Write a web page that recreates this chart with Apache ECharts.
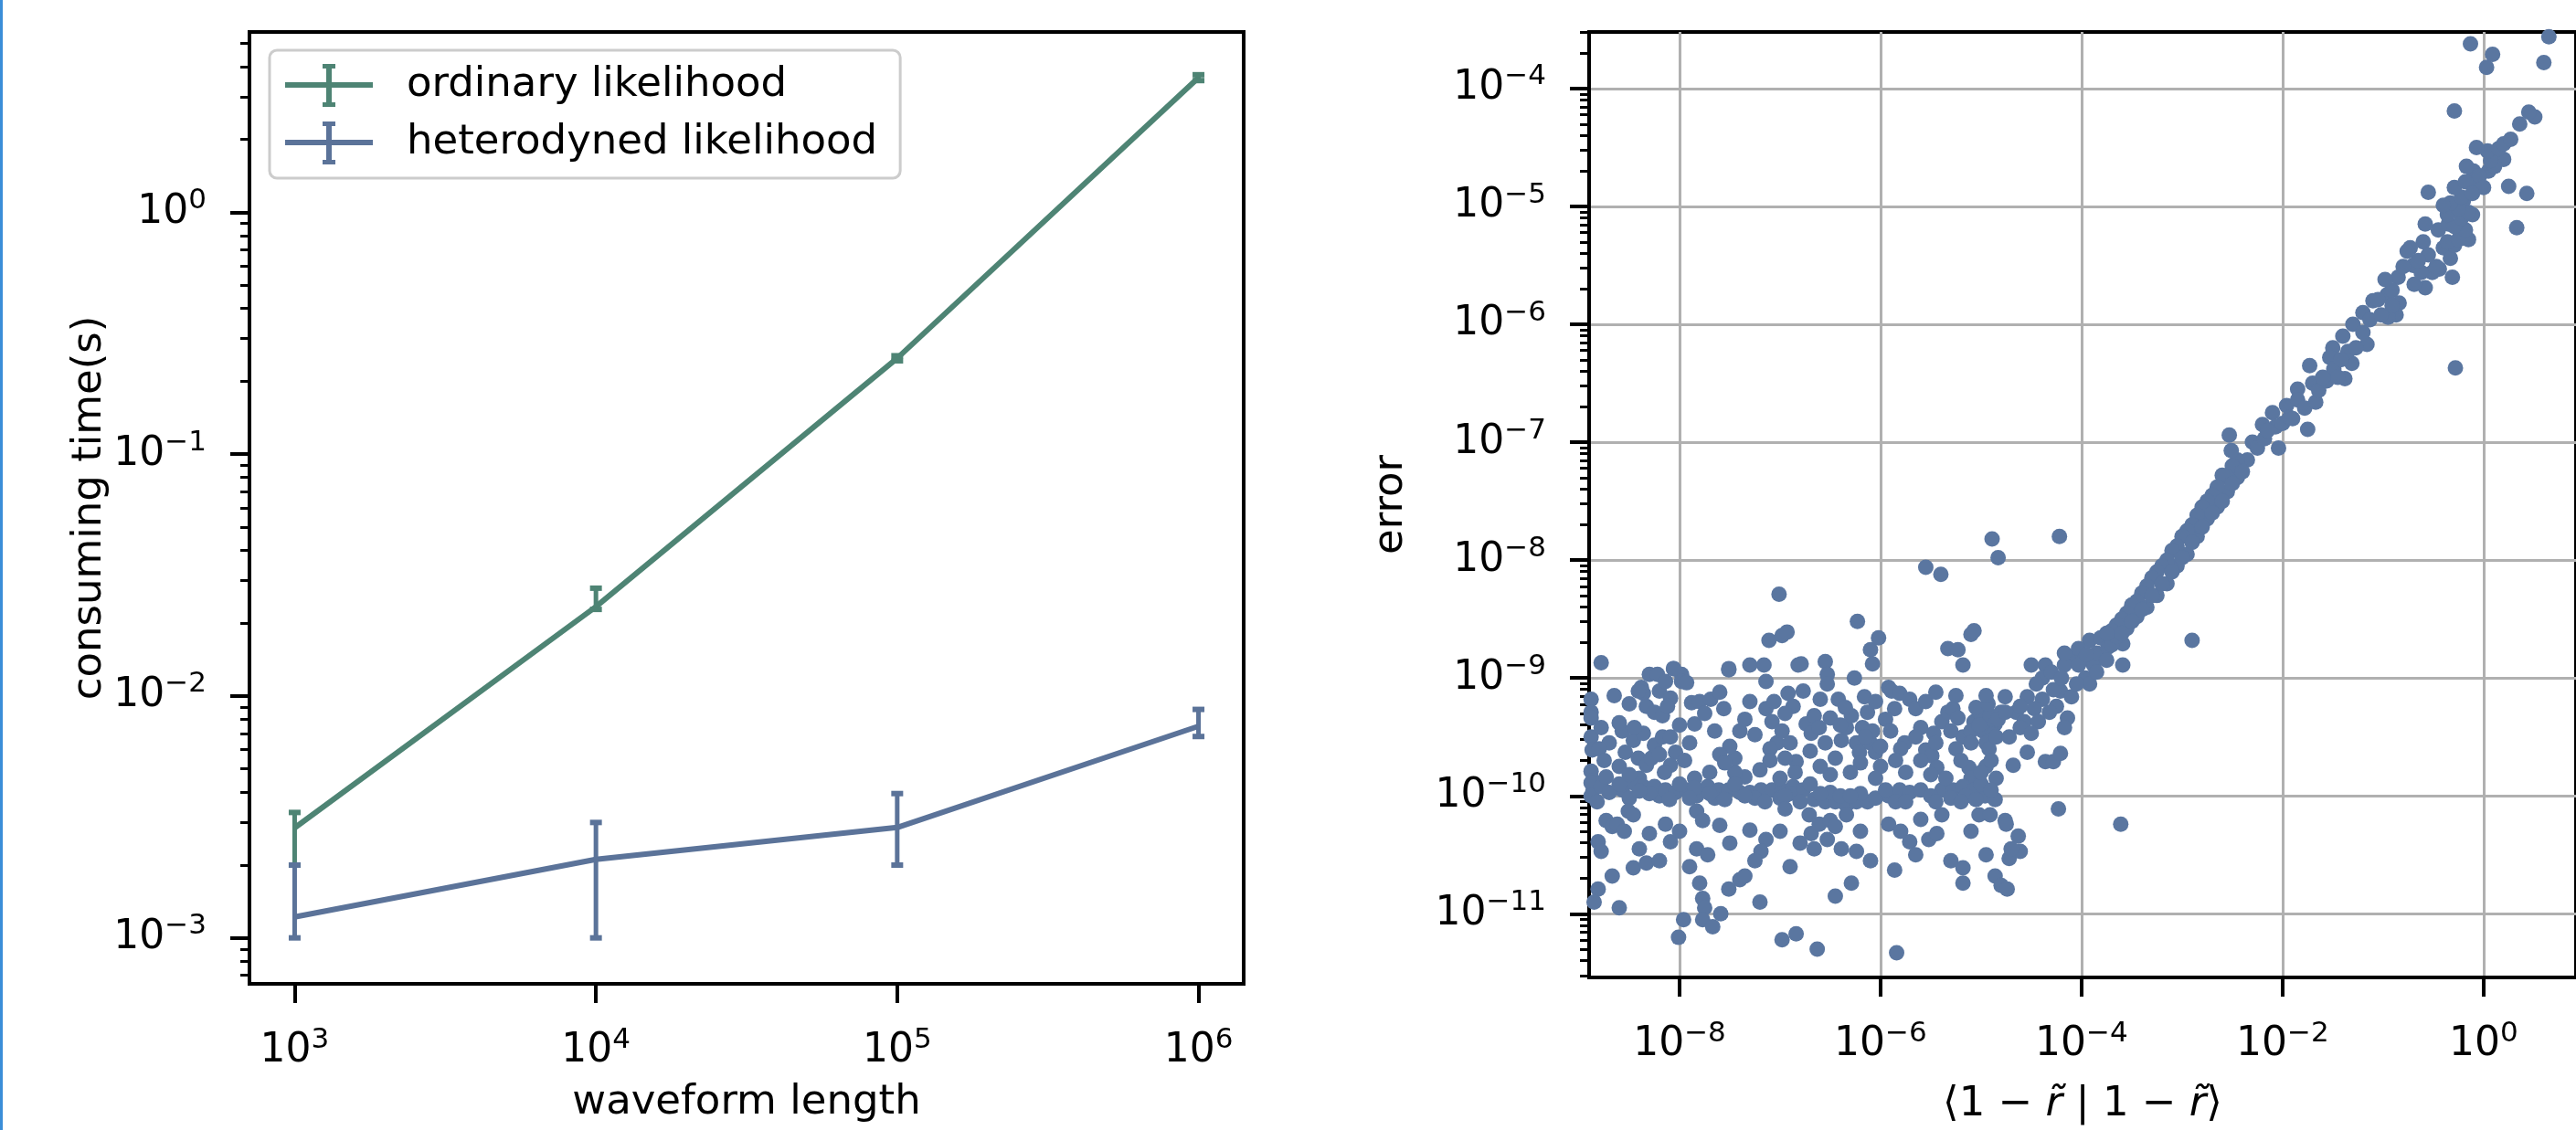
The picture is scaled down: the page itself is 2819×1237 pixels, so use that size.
<!DOCTYPE html>
<html>
<head>
<meta charset="utf-8">
<title>likelihood timing and error</title>
<script src="https://cdn.jsdelivr.net/npm/echarts@6/dist/echarts.min.js"></script>
<style>
    html, body { margin: 0; padding: 0; background: #fff; overflow: hidden; }
    #container { width: 2819px; height: 1237px; }
    #edge { position: absolute; left: 0; top: 0; width: 3px; height: 1237px; background: #3b8ed8; }
</style>
</head>
<body>
<div id="container"></div>
<div id="edge"></div>
<script>
// ---- left panel: consuming time vs waveform length ----
var waveformLength = [1e3, 1e4, 1e5, 1e6];
var ordinaryTime = [2.85e-3, 0.0234, 0.249, 3.6];
var ordinaryLow = [2.0e-3, 0.0228, 0.243, 3.5];
var ordinaryHigh = [3.3e-3, 0.0279, 0.255, 3.7];
var heteroTime = [1.22e-3, 2.11e-3, 2.86e-3, 7.5e-3];
var heteroLow = [1.0e-3, 1.0e-3, 2.0e-3, 6.8e-3];
var heteroHigh = [2.0e-3, 3.0e-3, 3.95e-3, 8.8e-3];

var leftXTicks = [1e3, 1e4, 1e5, 1e6];
var leftYTicks = [1e-3, 1e-2, 1e-1, 1];

// ---- right panel: error vs <1-r|1-r>, stored as [log10 x, log10 y] ----
var floorPoints = [
    [-8.78,-8.87],[-7.11,-8.68],[-6.98,-8.64],[-6.79,-8.88],[-6.55,-8.86],[-6.10,-8.76],[-6.08,-8.88],[-6.02,-8.66],
    [-5.33,-8.75],[-5.23,-8.76],[-5.18,-8.89],[-5.10,-8.63],[-7.51,-8.92],[-7.30,-8.89],[-7.16,-8.89],[-6.82,-8.89],
    [-6.53,-8.97],[-8.06,-8.92],[-7.98,-8.97],
    [-7.01,-8.29],[-6.23,-8.52],[-5.55,-8.06],[-5.40,-8.12],[-4.89,-7.82],[-4.83,-7.98],[-6.93,-8.61],[-5.07,-8.60],
    [-8.88,-9.18],[-8.88,-9.29],[-8.88,-9.34],[-8.88,-9.50],[-8.87,-9.61],[-8.88,-9.79],[-8.86,-9.87],[-8.86,-9.95],
    [-8.78,-9.42],[-8.70,-9.55],[-8.57,-9.45],[-8.54,-9.63],[-8.46,-9.53],[-8.36,-9.47],[-8.41,-9.68],[-8.33,-9.74],
    [-8.28,-9.68],[-8.25,-9.57],[-8.17,-9.50],[-8.09,-9.50],[-8.04,-9.63],[-8.09,-9.74],
    [-8.38,-9.08],[-8.36,-9.13],[-8.33,-9.24],[-8.30,-8.97],[-8.22,-8.97],[-8.20,-9.11],[-8.14,-9.03],[-8.09,-9.17],
    [-8.06,-8.92],[-7.98,-9.03],[-7.93,-9.04],[-8.41,-9.11],[-8.25,-9.29],[-8.17,-9.32],[-8.12,-9.24],
    [-7.88,-9.21],[-7.85,-9.39],[-7.80,-9.20],[-7.69,-9.18],[-7.56,-9.26],[-7.51,-8.93],[-7.45,-9.68],[-7.40,-9.45],
    [-7.35,-9.84],[-7.30,-9.20],[-7.14,-9.26],[-7.14,-9.03],[-7.08,-9.37],[-7.06,-9.20],[-7.03,-9.55],[-6.98,-9.45],
    [-6.92,-9.13],[-6.87,-9.24],[-6.84,-9.71],[-6.77,-9.11],[-6.74,-9.39],[-6.69,-9.47],[-6.66,-9.32],[-6.61,-9.42],
    [-6.53,-9.05],[-6.50,-9.34],[-6.45,-9.68],[-6.42,-9.18],[-6.39,-9.53],[-6.34,-9.42],[-6.29,-9.32],[-6.26,-9.00],
    [-6.24,-9.55],[-6.21,-9.63],[-6.18,-9.42],[-6.16,-9.16],[-6.13,-9.29],[-6.10,-9.55],[-6.08,-9.45],[-6.05,-9.63],
    [-6.00,-9.58],
    [-5.92,-9.08],[-5.89,-9.11],[-5.86,-9.26],[-5.81,-9.13],[-5.76,-9.55],[-5.71,-9.18],[-5.65,-9.26],[-5.60,-9.42],
    [-5.55,-9.61],[-5.49,-9.66],[-5.47,-9.47],[-5.44,-9.76],[-5.39,-9.37],[-5.33,-9.29],[-5.28,-9.26],[-5.23,-9.34],
    [-5.18,-9.50],[-5.12,-9.76],[-5.07,-9.37],[-5.02,-9.29],[-4.99,-9.34],[-4.96,-9.42],[-4.91,-9.32],[-4.86,-9.39],
    [-4.80,-9.29],[-5.05,-9.25],[-4.98,-9.45],[-4.93,-9.22],[-4.88,-9.48],[-4.83,-9.35],[-5.10,-9.45],[-4.95,-9.55],
    [-8.65,-9.15],[-8.50,-9.22],[-7.75,-9.30],[-7.60,-9.12],[-7.35,-9.35],[-6.95,-9.30],[-6.60,-9.18],[-6.35,-9.25],
    [-6.05,-9.20],[-5.95,-9.35],[-5.55,-9.20],[-5.45,-9.12],[-5.25,-9.15],[-4.95,-9.15],
    [-8.80,-9.60],[-8.60,-9.38],[-8.45,-9.42],[-8.00,-9.40],[-7.90,-9.55],[-7.65,-9.45],[-7.50,-9.58],[-7.25,-9.48],
    [-7.10,-9.60],[-6.90,-9.55],[-6.55,-9.55],[-6.40,-9.40],[-6.15,-9.50],[-5.90,-9.45],[-5.80,-9.60],[-5.65,-9.50],
    [-5.45,-9.55],[-5.30,-9.45],[-5.25,-9.60],[-5.10,-9.55],[-5.02,-9.40],[-4.92,-9.60],[-4.85,-9.50],
    [-8.75,-9.70],[-8.40,-9.85],[-8.20,-9.65],[-7.85,-9.85],[-7.60,-9.65],[-7.45,-9.80],[-7.10,-9.70],[-6.95,-9.68],
    [-6.70,-9.62],[-6.50,-9.82],[-6.20,-9.72],[-6.00,-9.75],[-5.85,-9.70],[-5.50,-9.82],[-5.10,-9.85],[-4.95,-9.75],
    [-4.85,-9.85],
    [-8.88,-9.89],[-8.88,-10.00],[-8.78,-9.92],[-8.73,-9.84],[-8.57,-9.95],[-8.46,-9.89],[-8.36,-9.92],[-8.25,-9.92],
    [-8.20,-10.00],[-8.14,-9.95],[-8.04,-9.97],[-7.93,-9.95],[-7.83,-10.00],[-7.72,-9.92],[-7.61,-9.95],[-7.51,-9.95],
    [-7.40,-9.97],[-7.30,-9.97],[-7.19,-9.95],[-7.08,-9.95],[-6.98,-9.95],[-6.87,-9.92],[-6.77,-9.95],[-6.66,-10.03],
    [-6.55,-10.05],[-6.45,-10.05],[-6.34,-10.08],[-6.24,-10.05],[-6.13,-10.05],[-5.92,-10.00],[-5.81,-9.95],[-5.71,-9.97],
    [-5.39,-9.95],[-5.28,-9.95],[-5.18,-9.92],[-5.07,-9.95],[-4.96,-10.00],[-4.86,-10.03],
    [-8.70,-9.97],[-8.60,-9.90],[-8.30,-9.98],[-8.00,-9.90],[-7.85,-9.93],[-7.65,-10.02],[-7.45,-9.90],[-7.25,-10.02],
    [-7.00,-10.02],[-6.90,-9.98],[-6.70,-9.90],[-6.50,-9.97],[-6.40,-10.00],[-6.20,-9.98],[-5.85,-10.05],[-5.60,-9.95],
    [-5.50,-10.00],[-5.30,-10.02],[-5.15,-10.00],[-5.00,-9.90],[-4.90,-9.95],
    [-8.82,-10.05],[-8.50,-10.02],[-8.40,-9.96],[-8.10,-10.03],[-7.90,-10.02],[-7.70,-9.98],[-7.55,-10.03],[-7.35,-10.00],
    [-7.15,-10.05],[-6.95,-10.00],[-6.80,-10.05],[-6.60,-9.98],[-6.30,-10.00],[-6.05,-10.02],[-5.95,-9.95],[-5.75,-10.05],
    [-5.45,-10.05],[-5.20,-10.05],[-5.05,-10.03],
    [-8.60,-9.75],[-8.50,-9.82],[-8.15,-9.80],[-7.95,-9.70],[-7.70,-9.80],[-7.55,-9.72],[-7.20,-9.78],[-7.00,-9.85],
    [-6.85,-9.80],[-6.60,-9.75],[-6.30,-9.80],[-6.05,-9.85],[-5.75,-9.80],[-5.60,-9.70],[-5.35,-9.85],[-5.20,-9.70],
    [-5.00,-9.80],[-4.90,-9.70],
    [-8.73,-10.21],[-8.67,-10.26],[-8.62,-10.24],[-8.51,-10.13],[-8.46,-10.16],[-8.30,-10.32],[-8.14,-10.24],[-8.09,-10.39],
    [-8.81,-10.39],[-8.78,-10.47],[-8.67,-10.68],[-8.81,-10.79],[-8.46,-10.61],[-8.33,-10.57],[-7.83,-10.13],[-7.77,-10.21],
    [-7.83,-10.45],[-7.72,-10.50],[-7.51,-10.79],[-7.40,-10.71],[-7.35,-10.68],[-7.80,-10.74],[-7.77,-10.87],[-7.75,-10.95],
    [-7.77,-11.05],[-7.67,-11.11],[-7.59,-11.00],[-7.96,-11.05],[-8.01,-11.20],[-7.30,-10.29],[-7.14,-10.37],[-7.19,-10.47],
    [-6.95,-10.11],[-6.98,-11.22],[-6.84,-11.17],[-6.63,-11.30],[-6.71,-10.16],[-6.69,-10.32],[-6.66,-10.45],[-6.61,-10.24],
    [-6.53,-10.37],[-6.50,-10.21],[-6.45,-10.26],[-6.39,-10.45],[-6.34,-10.16],[-6.24,-10.47],[-6.29,-10.74],[-5.92,-10.24],
    [-5.86,-10.63],[-5.84,-11.33],[-5.71,-10.39],[-5.65,-10.50],[-5.52,-10.37],[-5.44,-10.32],[-5.39,-10.16],[-5.18,-10.61],
    [-5.18,-10.74],[-5.02,-10.16],[-4.91,-10.16],[-4.86,-10.68],[-4.80,-10.76],
    [-8.55,-10.30],[-8.40,-10.45],[-8.20,-10.55],[-8.00,-10.30],[-7.90,-10.60],[-7.60,-10.25],[-7.50,-10.40],[-7.25,-10.55],
    [-7.00,-10.30],[-6.90,-10.60],[-6.80,-10.40],[-6.20,-10.30],[-6.10,-10.55],[-5.80,-10.30],[-5.60,-10.20],[-5.30,-10.55],
    [-5.10,-10.30],[-4.95,-10.50],[-8.85,-10.90],[-8.60,-10.95],[-7.20,-10.90],[-6.45,-10.85]
];

var risingPoints = [
    [-2.90,-8.68],[-3.59,-8.89],[-3.61,-10.24],[-4.23,-10.11],[-3.92,-8.68],[-3.81,-8.66],[-3.67,-8.68],[-3.59,-8.71],
    [-4.10,-8.82],[-4.17,-8.89],[-4.03,-8.75],[-3.97,-8.84],[-3.88,-8.89],[-3.96,-9.00],[-3.92,-9.05],[-4.21,-9.11],
    [-4.10,-9.16],[-4.25,-9.24],[-4.14,-9.34],[-4.17,-9.42],[-4.39,-9.18],[-4.50,-8.89],[-4.36,-8.89],[-4.65,-9.29],
    [-4.57,-9.37],[-4.76,-9.16],[-4.76,-9.29],[-4.72,-9.50],[-4.61,-9.42],[-4.54,-9.63],[-4.68,-9.74],[-4.36,-9.71],
    [-4.28,-9.71],[-4.21,-9.64],[-4.76,-10.21],[-4.63,-10.34],[-4.72,-10.53],[-4.61,-10.47],[-4.74,-10.79],[-4.54,-9.16],
    [-4.47,-9.26],[-4.61,-9.24],[-4.43,-9.37],[-4.32,-9.29],[-4.50,-9.47],[-4.28,-9.10],[-4.39,-9.00],[-4.03,-8.89],
    [-3.85,-8.79],[-3.74,-8.74],[-4.17,-8.79],[-4.75,-10.24],[-4.70,-10.45],[-4.22,-7.80],
    [-4.45,-9.05],[-4.30,-8.95],[-4.20,-9.00],[-4.05,-9.05],[-3.95,-8.80],[-3.85,-8.95],[-3.75,-8.85],[-3.70,-8.72],
    [-3.65,-8.65],[-3.55,-8.58],[-3.45,-8.48],[-3.35,-8.40],[-3.25,-8.30],[-3.15,-8.20],[-3.05,-8.05],[-2.95,-7.95],
    [-2.85,-7.80],[-2.75,-7.65],[-2.65,-7.55],[-2.55,-7.42],[-2.45,-7.30],[-2.35,-7.15],[-2.30,-7.00],[-2.20,-6.85],
    [-2.10,-6.75],[-1.85,-6.55],[-1.70,-6.50],[-1.50,-6.20],[-1.40,-6.10],[-1.30,-6.00],[-1.20,-5.90],[-1.10,-5.80],
    [-0.85,-5.60],[-0.70,-5.50],[-0.60,-5.30],[-0.45,-5.20],[-0.40,-5.35],[-0.35,-5.15],[-0.20,-4.95],[-0.10,-4.70],
    [0.05,-4.70],[0.10,-4.55],[0.20,-4.60],
    [-2.45,-7.15],[-2.50,-7.20],[-2.40,-7.25],[-2.55,-7.30],[-2.60,-7.28],[-2.50,-7.35],[-2.65,-7.38],[-2.70,-7.45],
    [-2.60,-7.50],[-2.75,-7.50],[-2.80,-7.55],[-2.70,-7.60],[-2.85,-7.62],[-2.90,-7.70],[-2.80,-7.72],[-2.95,-7.75],
    [-3.00,-7.80],[-2.90,-7.85],[-3.05,-7.88],[-3.10,-7.92],[-3.00,-7.98],[-3.15,-8.00],[-3.20,-8.05],[-3.10,-8.10],
    [-3.25,-8.10],[-3.30,-8.15],[-3.20,-8.20],[-3.35,-8.22],[-3.40,-8.28],[-3.30,-8.30],[-3.45,-8.35],[-3.50,-8.38],
    [-3.40,-8.42],[-3.55,-8.45],[-3.60,-8.50],[-3.50,-8.52],[-3.65,-8.55],[-3.70,-8.60],[-3.60,-8.62],[-3.75,-8.62],
    [-2.53,-6.94],[-2.51,-7.07],[-2.25,-7.05],[-2.18,-6.97],[-2.04,-7.05],[-2.07,-6.87],[-2.00,-6.84],[-1.96,-6.69],
    [-1.93,-6.79],[-1.75,-6.89],[-1.85,-6.64],[-1.78,-6.71],[-1.67,-6.66],[-1.73,-6.35],[-1.53,-6.28],[-1.64,-6.56],
    [-1.56,-6.48],[-1.49,-6.38],[-1.38,-6.46],[-1.31,-6.33],[-1.16,-6.17],[-1.35,-6.23],[-1.27,-6.20],[-1.20,-6.07],
    [-1.42,-6.30],[-1.45,-6.45],[-1.60,-6.45],[-1.90,-6.80],[-2.15,-6.90],
    [-1.13,-5.96],[-0.96,-5.75],[-0.91,-5.71],[-0.84,-5.82],[-0.87,-5.92],[-0.95,-5.94],[-0.91,-5.84],[-1.02,-5.92],
    [-1.05,-5.79],[-0.98,-5.62],[-0.73,-5.35],[-0.44,-5.53],[-0.58,-5.69],[-0.69,-5.66],[-0.51,-5.56],[-0.62,-5.56],
    [-0.47,-5.51],[-0.55,-5.41],[-0.65,-5.46],[-0.80,-5.51],[-0.76,-5.38],[-0.28,-6.37],
    [-0.31,-5.60],[-0.33,-5.44],[-0.29,-5.33],[-0.36,-5.30],[-0.15,-5.28],[-0.25,-5.28],[-0.18,-5.20],[-0.29,-5.17],
    [-0.11,-5.07],[-0.22,-5.10],[-0.36,-5.07],[-0.15,-5.05],[-0.25,-5.02],[-0.33,-4.97],[-0.22,-4.92],[-0.29,-4.84],
    [-0.58,-5.15],[-0.07,-4.79],[-0.04,-4.74],[0.00,-4.84],[-0.40,-4.99],[-0.18,-4.79],[-0.11,-4.89],
    [-0.55,-4.88],[0.25,-4.83],[0.43,-4.89],[0.33,-5.18],[-0.17,-4.66],[0.11,-4.66],[0.07,-4.61],[0.04,-4.53],
    [-0.07,-4.50],[0.15,-4.51],[0.20,-4.47],[0.27,-4.43],[0.36,-4.30],[0.51,-4.24],[0.45,-4.20],[-0.29,-4.19],
    [0.60,-3.78],[0.65,-3.56],[0.03,-3.82],[0.09,-3.71],[-0.13,-3.62]
];

var rightXTicks = [1e-8, 1e-6, 1e-4, 1e-2, 1];
var rightYTicks = [1e-11, 1e-10, 1e-9, 1e-8, 1e-7, 1e-6, 1e-5, 1e-4];

var FONT = 'DejaVu Sans';
var GREEN = '#4e8474';
var BLUE = '#5b7399';
var DOT = '#5a76a0';
var lg = Math.log10;

// log axis extents (log10)
var leftX = [2.85, 6.15], leftY = [-3.19, 0.745];
var rightX = [-8.9, 0.92], rightY = [-11.54, -3.52];

function minorTicks(ext) {
    var out = [];
    for (var e = Math.floor(ext[0]) - 1; e <= Math.ceil(ext[1]); e++) {
        for (var k = 2; k <= 9; k++) {
            var v = e + lg(k);
            if (v >= ext[0] && v <= ext[1]) out.push(v);
        }
    }
    return out;
}

function powLabel(v) {
    var e = Math.round(v);
    return '{b|10}{s|' + (e < 0 ? '\u2212' + (-e) : e) + '}';
}

var labelRich = {
    b: { fontFamily: FONT, fontSize: 44, lineHeight: 56, color: '#000' },
    s: { fontFamily: FONT, fontSize: 31, lineHeight: 30, verticalAlign: 'top', color: '#000' }
};
var nameStyle = { fontFamily: FONT, fontSize: 45, color: '#000' };

function majorAxis(grid, ext, ticks, pos, name, gap, extra) {
    var vals = ticks.map(lg);
    var ax = {
        gridIndex: grid, type: 'value', min: ext[0], max: ext[1], position: pos,
        axisLine: { show: true, onZero: false, lineStyle: { color: '#000', width: 4 } },
        axisTick: { show: true, customValues: vals, length: 21, lineStyle: { color: '#000', width: 4 } },
        axisLabel: { show: true, customValues: vals, formatter: powLabel, rich: labelRich, margin: pos === 'bottom' ? 46 : 47 },
        splitLine: { show: false },
        name: name, nameLocation: 'middle', nameGap: gap, nameTextStyle: nameStyle
    };
    return Object.assign(ax, extra || {});
}

function minorAxis(grid, ext, pos) {
    return {
        gridIndex: grid, type: 'value', min: ext[0], max: ext[1], position: pos,
        axisLine: { show: false, onZero: false },
        axisTick: { show: true, customValues: minorTicks(ext), length: 10, lineStyle: { color: '#000', width: 3 } },
        axisLabel: { show: false },
        splitLine: { show: false }
    };
}

function errorBars(name, color, lows, highs, z) {
    return {
        type: 'custom', name: name, xAxisIndex: 0, yAxisIndex: 0, z: z,
        itemStyle: { color: color },
        data: waveformLength.map(function (x, i) { return [lg(x), lg(lows[i]), lg(highs[i])]; }),
        encode: { x: 0, y: [1, 2] },
        renderItem: function (params, api) {
            var top = api.coord([api.value(0), api.value(2)]);
            var bot = api.coord([api.value(0), api.value(1)]);
            var cw = 13, ch = 6;
            return {
                type: 'group',
                children: [
                    { type: 'line', shape: { x1: top[0], y1: top[1], x2: bot[0], y2: bot[1] }, style: { stroke: color, lineWidth: 5 } },
                    { type: 'rect', shape: { x: top[0] - cw / 2, y: top[1] - ch / 2, width: cw, height: ch }, style: { fill: color } },
                    { type: 'rect', shape: { x: bot[0] - cw / 2, y: bot[1] - ch / 2, width: cw, height: ch }, style: { fill: color } }
                ]
            };
        }
    };
}

function lineSeries(name, color, values, z) {
    return {
        type: 'line', name: name, xAxisIndex: 0, yAxisIndex: 0, z: z,
        symbol: 'none', lineStyle: { color: color, width: 6 },
        data: waveformLength.map(function (x, i) { return [lg(x), lg(values[i])]; })
    };
}

var ERR_ICON = 'path://M0,20h96v6H0z M45,3h6v41h-6z M41,0h14v5H41z M41,42h14v5H41z';

var chart = echarts.init(document.getElementById('container'), null, { renderer: 'canvas' });
chart.setOption({
    backgroundColor: '#fff',
    animation: false,
    grid: [
        { left: 273, top: 35, right: 2819 - 1361, bottom: 1237 - 1077, show: true, borderColor: '#000', borderWidth: 4 },
        { left: 1739, top: 35, right: -11, bottom: 1237 - 1077, show: true, borderColor: '#000', borderWidth: 4 }
    ],
    xAxis: [
        majorAxis(0, leftX, leftXTicks, 'bottom', 'waveform length', 108),
        majorAxis(1, rightX, rightXTicks, 'bottom', '\u27e81 \u2212 {i|r\u0303} | 1 \u2212 {i|r\u0303}\u27e9', 117, {
            splitLine: { show: true, lineStyle: { color: '#b0b0b0', width: 3 } },
            nameTextStyle: Object.assign({}, nameStyle, { rich: { i: { fontFamily: FONT, fontSize: 45, fontStyle: 'italic', color: '#000' } } })
        })
    ],
    yAxis: [
        majorAxis(0, leftY, leftYTicks, 'left', 'consuming time(s)', 145),
        minorAxis(0, leftY, 'left'),
        majorAxis(1, rightY, rightYTicks, 'left', 'error', 194, {
            splitLine: { show: true, lineStyle: { color: '#b0b0b0', width: 3 } }
        }),
        minorAxis(1, rightY, 'left')
    ],
    legend: {
        orient: 'vertical', left: 295, top: 55,
        data: [
            { name: 'ordinary likelihood', icon: ERR_ICON, itemStyle: { color: GREEN } },
            { name: 'heterodyned likelihood', icon: ERR_ICON, itemStyle: { color: BLUE } }
        ],
        itemWidth: 96, itemHeight: 47, itemGap: 16,
        padding: [15, 25, 15, 17],
        backgroundColor: 'rgba(255,255,255,0.8)',
        borderColor: '#cccccc', borderWidth: 3, borderRadius: 8,
        selectedMode: false,
        formatter: function (name) { return '{g| }{t|' + name + '}'; },
        textStyle: {
            fontFamily: FONT, fontSize: 45, color: '#000',
            rich: { g: { width: 32 }, t: { fontFamily: FONT, fontSize: 45, lineHeight: 47, color: '#000' } }
        }
    },
    series: [
        lineSeries('ordinary line', GREEN, ordinaryTime, 2),
        errorBars('ordinary likelihood', GREEN, ordinaryLow, ordinaryHigh, 3),
        lineSeries('heterodyned line', BLUE, heteroTime, 4),
        errorBars('heterodyned likelihood', BLUE, heteroLow, heteroHigh, 5),
        {
            type: 'scatter', name: 'error', xAxisIndex: 1, yAxisIndex: 2,
            symbolSize: 17, itemStyle: { color: DOT, opacity: 1 },
            data: floorPoints.concat(risingPoints)
        }
    ]
});
</script>
</body>
</html>
